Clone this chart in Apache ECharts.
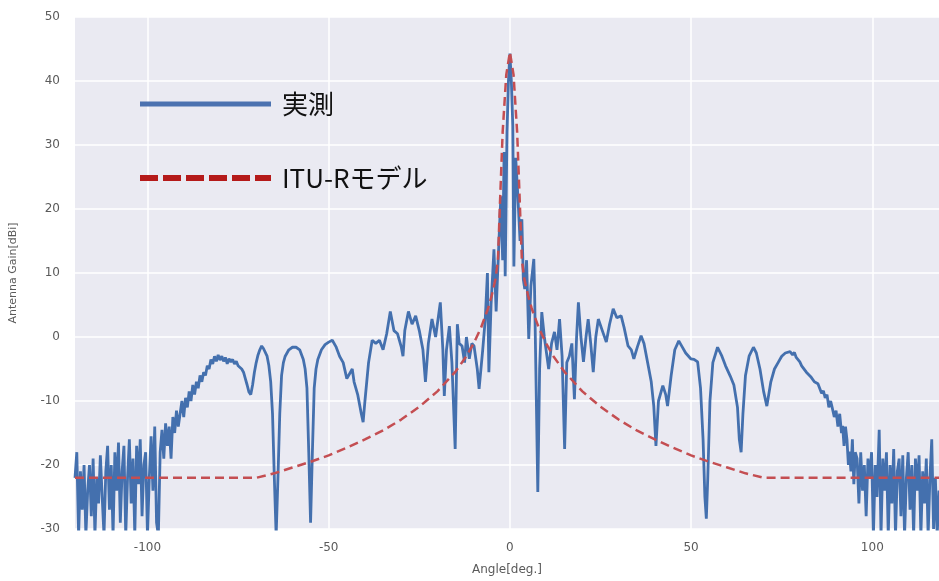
<!DOCTYPE html>
<html>
<head>
<meta charset="utf-8">
<script src="https://cdn.jsdelivr.net/npm/echarts@6/dist/echarts.min.js"></script>
<style>html,body{margin:0;padding:0;background:#fff;}#chart{width:939px;height:581px;}</style>
</head>
<body>
<div id="chart"></div>
<script>
// ---- data ----
const seriesNames = ['実測', 'ITU-Rモデル'];
const xTickValues = [-100, -50, 0, 50, 100];
const xLabel = 'Angle[deg.]';
const yLabel = 'Antenna Gain[dBi]';

// measured antenna gain: [angle(deg), gain(dBi)]
const measured = [
[-120,-22],[-119.5,-18],[-119,-31],[-118.5,-21],[-118,-27],[-117.5,-20],[-117,-31],[-116.5,-24],[-116,-20],[-115.5,-28],
[-115,-19],[-114.5,-31],[-114,-22],[-113.5,-26],[-113,-18.5],[-112.5,-25],[-112,-31],[-111.5,-21],[-111,-17],[-110.5,-27],
[-110,-20],[-109.5,-31],[-109,-18],[-108.5,-24],[-108,-16.5],[-107.5,-29],[-107,-21],[-106.5,-17],[-106,-31],[-105.5,-22],
[-105,-16],[-104.5,-26],[-104,-19],[-103.5,-31],[-103,-17],[-102.5,-23],[-102,-16],[-101.5,-28],[-101,-20],[-100.5,-18],
[-100,-31],[-99.5,-22],[-99,-15.5],[-98.5,-24],[-98,-14],[-97.5,-29],[-97,-31],[-96.5,-18],[-96,-14.5],[-95.5,-19],
[-95,-13.5],[-94.5,-17],[-94,-14],[-93.5,-19],[-93,-12.5],[-92.5,-15],[-92,-11.5],[-91.5,-14],[-91,-12],[-90.5,-10],
[-90,-12.5],[-89.5,-9.5],[-89,-11],[-88.5,-8.5],[-88,-10],[-87.5,-7.5],[-87,-9],[-86.5,-7],[-86,-8],[-85.5,-6],
[-85,-7],[-84.5,-5.5],[-84,-6],[-83.5,-4.5],[-83,-5],[-82.5,-3.5],[-82,-4.2],[-81.5,-3],[-81,-3.8],[-80.5,-2.8],
[-80,-3.6],[-79.5,-3],[-79,-3.8],[-78.5,-3.2],[-78,-4.2],[-77.5,-3.4],[-77,-3.9],[-76.5,-3.5],[-76,-4.2],[-75.5,-3.8],
[-75,-4.5],[-74.5,-4.2],[-74,-5],[-73.5,-5.5],[-73,-6.5],[-72.5,-7.5],[-72,-8.6],[-71.5,-9],[-71,-7.5],[-70.5,-5.5],
[-70,-4],[-69.5,-2.8],[-69,-2],[-68.5,-1.4],[-68,-1.8],[-67.5,-2],[-67,-3],[-66.5,-4.5],[-66,-7],[-65.5,-12],
[-65,-22],[-64.5,-31],[-64,-22],[-63.5,-12],[-63,-6],[-62.5,-4],[-62,-3],[-61,-2],[-60,-1.6],[-59.5,-1.4],
[-59,-1.6],[-58,-2],[-57,-3.5],[-56.5,-5],[-56,-8],[-55.5,-18],[-55,-29],[-54.5,-18],[-54,-8],[-53.5,-5],
[-53,-3.5],[-52,-2],[-51,-1.2],[-50,-0.8],[-49,-0.5],[-48,-1.5],[-47,-3],[-46,-4],[-45,-6.5],[-44,-5.5],
[-43.5,-5],[-43,-7],[-42,-9],[-41,-12],[-40.5,-13.3],[-40,-10],[-39,-4],[-38,-0.5],[-37,-1],[-36,-0.5],
[-35,-2],[-34,0.5],[-33,4],[-32,1],[-31,0.5],[-30,-1.5],[-29.5,-3],[-29,1],[-28,4],[-27,2],
[-26,3.3],[-25,1],[-24,-2],[-23.3,-7],[-22.5,-1],[-21.5,2.8],[-20.5,0],[-19.2,5.4],[-18.5,-2],[-18.1,-9.2],
[-17.5,-2],[-16.7,1.7],[-16,-4],[-15.1,-17.5],[-14.5,2],[-14,-1],[-13.2,-1.4],[-12.5,-4],[-12,0],[-11.2,-3.4],
[-10.5,-1],[-9.9,-1.4],[-9,-5],[-8.5,-8.1],[-7.5,-2],[-6.8,2.8],[-6.2,10],[-5.8,-5.5],[-5.2,5],[-4.4,13.7],
[-3.8,4],[-3,15.3],[-2.5,22],[-2,12],[-1.6,28.9],[-1.3,9.5],[-0.8,32],[-0.4,40],[0,44.3],[0.4,40],
[0.8,33],[1.1,11],[1.6,28],[2.2,22],[2.8,15],[3.3,18.4],[3.7,9],[4.1,7.5],[4.6,12],[5.2,-0.3],
[5.8,8],[6.6,12.2],[6.8,7.5],[7.3,-10],[7.7,-24.2],[8.2,-5],[8.8,3.9],[9.5,0],[10.7,-5],[11.5,-1],
[12.3,0.8],[13,-2],[13.7,2.8],[14.4,-3],[15.1,-17.5],[15.7,-4],[16.4,-3],[17.1,-1],[17.8,-9.7],[18.4,0],
[18.9,5.4],[19.6,0],[20.3,-3.9],[21,0],[21.6,2.8],[22.3,-1],[23,-5.5],[23.7,0],[24.4,2.8],[25.5,1],
[26.6,-0.8],[27.5,2],[28.5,4.4],[29.5,3],[30.7,3.3],[31.5,1.5],[32.6,-1.4],[33.5,-2],[34.2,-3.4],[35.2,-1.5],
[36.2,0.2],[37,-1],[38,-4],[39,-7],[39.7,-10.8],[40.3,-17],[41,-10],[42.2,-7.6],[43,-9],[43.5,-10.8],
[44.5,-6],[45.5,-2],[46.6,-0.6],[47.5,-1.5],[48.5,-2.5],[49.9,-3.4],[50.8,-3.5],[51.8,-3.9],[52.6,-8],[53.3,-16],
[53.8,-25],[54.2,-28.4],[54.6,-22],[55.2,-10],[56,-4],[57.3,-1.6],[58.5,-3],[59.5,-4.5],[60.8,-6.1],[61.8,-7.5],
[62.8,-11],[63.3,-16],[63.8,-18],[64.3,-12],[65,-6],[66,-3],[67.2,-1.6],[68,-2.5],[69,-5],[70,-8.5],
[70.9,-10.8],[72,-7],[73,-5],[74,-4],[75,-3],[76,-2.5],[77.3,-2.3],[78,-2.8],[78.5,-2.4],[79,-3.2],
[79.5,-3.5],[80,-3.9],[80.5,-4.5],[81,-4.3],[81.8,-5.5],[82.3,-5.2],[83,-6.2],[83.5,-6],[84,-7],[84.5,-6.7],
[85,-7.3],[85.5,-7.6],[86,-8.8],[86.5,-8.4],[87,-9.5],[87.5,-9],[88,-11],[88.5,-10],[89,-11.2],[89.5,-12.5],
[90,-11.5],[90.5,-14],[91,-12],[91.5,-15],[91.8,-13.9],[92.2,-17],[92.6,-14],[93,-16],[93.4,-20],[93.7,-17.9],
[94.1,-21],[94.5,-16],[94.9,-23],[95.3,-18],[95.8,-19],[96.3,-26],[96.8,-18],[97.3,-24],[97.8,-20],[98.3,-28],
[98.8,-19],[99.3,-22],[99.8,-18],[100.3,-31],[100.8,-20],[101.3,-25],[101.9,-14.5],[102.4,-31],[102.9,-19],[103.4,-24],
[103.9,-18],[104.4,-31],[104.9,-20],[105.4,-26],[105.9,-17.5],[106.4,-31],[106.9,-21],[107.4,-19],[107.9,-28],[108.4,-18.5],
[108.9,-31],[109.4,-22],[109.9,-18],[110.4,-27],[110.9,-20],[111.4,-31],[111.9,-19],[112.4,-24],[112.9,-18.5],[113.4,-31],
[113.9,-21],[114.4,-26],[114.9,-19],[115.4,-31],[115.9,-22],[116.4,-16],[116.9,-30],[117.4,-22],[117.9,-31],[118.4,-24]
];

// ITU-R model: [angle(deg), gain(dBi)]
const ituModel = [
[-120,-22],[-70,-22],[-65,-21.3],[-60,-20.4],[-55,-19.5],[-50,-18.5],[-45,-17.3],[-40,-16],[-35,-14.6],[-30,-12.9],
[-25,-10.9],[-20,-8.5],[-15,-5.4],[-12,-3],[-10,-1],[-8,1.4],[-6,4.5],[-5,6.5],[-4,9],[-3.3,12],
[-2.7,21.5],[-2,32],[-1,41],[0,44.5],[1,41],[2,32],[2.7,21.5],[3.3,12],[4,9],[5,6.5],
[6,4.5],[8,1.4],[10,-1],[12,-3],[15,-5.4],[20,-8.5],[25,-10.9],[30,-12.9],[35,-14.6],[40,-16],
[45,-17.3],[50,-18.5],[55,-19.5],[60,-20.4],[65,-21.3],[70,-22],[118.4,-22]
];

const chart = echarts.init(document.getElementById('chart'), null, {renderer: 'canvas'});
const labelColor = '#5a5a5a';
chart.setOption({
  backgroundColor: '#ffffff',
  animation: false,
  grid: {left: 70, right: 0, top: 17, bottom: 51, show: true, backgroundColor: '#EAEAF2', borderWidth: 0},
  legend: {
    orient: 'vertical', left: 132, top: 86,
    itemWidth: 131, itemHeight: 26, itemGap: 48,
    textStyle: {fontFamily: 'Noto Sans CJK JP', fontSize: 26, color: '#111', padding: [0, 0, 0, 6]},
    data: [
      {name: seriesNames[0], lineStyle: {width: 5, color: '#4C72B0'}, itemStyle: {opacity: 0, borderWidth: 0}},
      {name: seriesNames[1], lineStyle: {width: 6, color: '#B51A1A', type: [18, 5]}, itemStyle: {opacity: 0, borderWidth: 0}}
    ]
  },
  xAxis: {
    type: 'value', min: -120, max: 118.4,
    name: xLabel, nameLocation: 'middle', nameGap: 35,
    nameTextStyle: {color: labelColor, fontSize: 12, fontFamily: 'DejaVu Sans'},
    axisLine: {show: false},
    axisTick: {show: false, customValues: xTickValues},
    axisLabel: {customValues: xTickValues, color: labelColor, fontSize: 12, margin: 13, fontFamily: 'DejaVu Sans'},
    splitLine: {show: true, lineStyle: {color: '#ffffff', width: 1.5}}
  },
  yAxis: {
    type: 'value', min: -30, max: 50, interval: 10,
    name: yLabel, nameLocation: 'middle', nameGap: 56, nameRotate: 90,
    nameTextStyle: {color: labelColor, fontSize: 11, fontFamily: 'DejaVu Sans'},
    axisLine: {show: false}, axisTick: {show: false},
    axisLabel: {color: labelColor, fontSize: 12, margin: 15, fontFamily: 'DejaVu Sans'},
    splitLine: {show: true, lineStyle: {color: '#ffffff', width: 1.5}}
  },
  series: [
    {
      name: seriesNames[0], type: 'line', data: measured, symbol: 'none', clip: true,
      lineStyle: {color: '#4470AE', width: 2.8}, itemStyle: {color: '#4470AE'}, z: 2
    },
    {
      name: seriesNames[1], type: 'line', data: ituModel, symbol: 'none', clip: true,
      lineStyle: {color: '#C44E52', width: 2.5, type: [9, 5]}, itemStyle: {color: '#C44E52'}, z: 3
    }
  ]
});
</script>
</body>
</html>
